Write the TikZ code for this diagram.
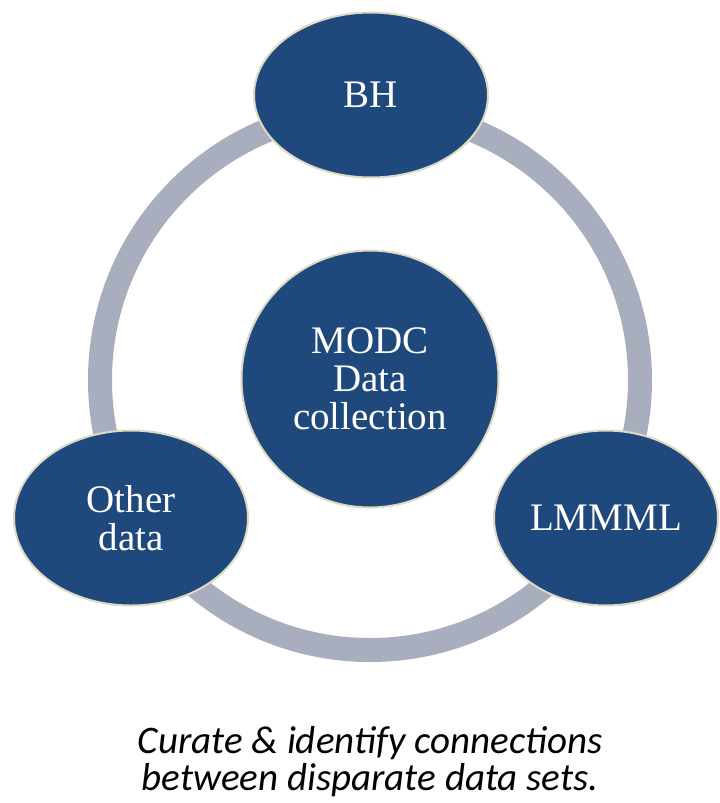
\documentclass[tikz,border=0pt]{standalone}
\usepackage{fontspec}
\setmainfont{Liberation Serif}
\newfontfamily\capfont{Carlito}
\usetikzlibrary{shapes.geometric}
\definecolor{setblue}{HTML}{1F497D}
\definecolor{setrim}{HTML}{DDD9C3}
\definecolor{ringgray}{HTML}{A9AEBE}

\begin{document}
\begin{tikzpicture}[x=1pt, y=-1pt]
        \tikzstyle{vertex}=[ellipse,draw=setrim,line width=2pt,fill=setblue,text=white,inner sep=0pt,align=center,font=\fontsize{39}{38}\selectfont]
        \tikzstyle{hub}=[circle,draw=setrim,line width=2pt,fill=setblue,text=white,inner sep=0pt,minimum size=257pt,align=center,font=\fontsize{39}{38}\selectfont]
        \tikzstyle{ring}=[draw=ringgray,line width=24pt]

        \useasboundingbox (0,0) rectangle (720,803);
        \coordinate (R) at (370,380);
        \draw[ring] (R) circle (270pt);

        \node[hub] (D_0) at (370,379)  {MODC\\Data\\collection};
        \node[vertex,minimum width=234pt,minimum height=165pt] (D_1) at (371,95)  {BH};
        \node[vertex,minimum width=224pt,minimum height=175pt] (D_2) at (606,518)  {LMMML};
        \node[vertex,minimum width=234pt,minimum height=175pt] (D_3) at (131,518)  {Other\\data};

        \node[align=center,font=\capfont\itshape\fontsize{39}{37}\selectfont] (cap) at (370,762) {Curate \& identify connections\\between disparate data sets.};
\end{tikzpicture}
\end{document}
